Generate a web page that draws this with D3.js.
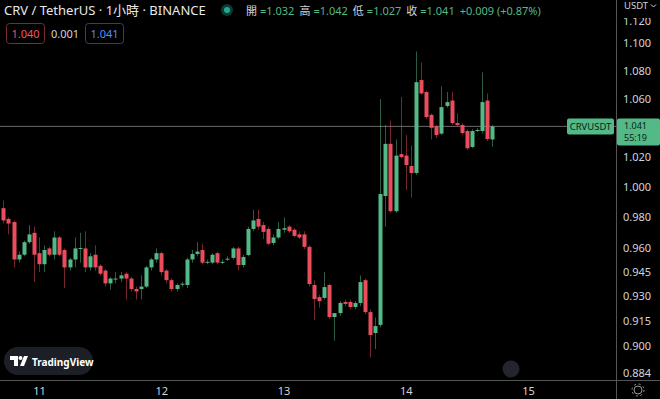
<!DOCTYPE html>
<html>
<head>
<meta charset="utf-8">
<script src="https://cdn.jsdelivr.net/npm/d3@7"></script>
<style>
body { margin: 0; background: #000; }
svg { display: block; font-family: "Noto Sans", "Noto Sans CJK TC", sans-serif; }
</style>
</head>
<body>
<svg id="chart" width="660" height="399"></svg>
<script>
// hourly candles, first one at 10th 17:00
const firstHour = new Date(2023, 4, 10, 17);
const opens = [0.986, 0.979, 0.977, 0.953, 0.956, 0.964, 0.970, 0.957, 0.950, 0.960,
  0.956, 0.967, 0.959, 0.948, 0.953, 0.9597, 0.960, 0.948, 0.956, 0.949,
  0.946, 0.938, 0.941, 0.941, 0.944, 0.941, 0.9345, 0.9345, 0.936, 0.948,
  0.953, 0.957, 0.946, 0.940, 0.9345, 0.9376, 0.937, 0.953, 0.9565, 0.959,
  0.951, 0.951, 0.957, 0.951, 0.953, 0.954, 0.960, 0.9495, 0.9558, 0.9725,
  0.979, 0.975, 0.9725, 0.9635, 0.967, 0.972, 0.974, 0.972, 0.969, 0.969,
  0.961, 0.937, 0.9295, 0.929, 0.937, 0.9173, 0.9197, 0.9265, 0.9265, 0.9234,
  0.9259, 0.940, 0.9203, 0.9076, 0.9125, 0.994, 1.029, 0.984, 1.022, 1.021,
  1.014, 1.0093, 1.0735, 1.065, 1.049, 1.041, 1.036, 1.0552, 1.059, 1.0433,
  1.042, 1.0378, 1.0269, 1.038, 1.0378, 1.059, 1.032];
const highs = [0.991, 0.980, 0.978, 0.958, 0.965, 0.975, 0.974, 0.967, 0.962, 0.961,
  0.971, 0.968, 0.960, 0.954, 0.967, 0.970, 0.971, 0.957, 0.962, 0.950,
  0.947, 0.942, 0.945, 0.945, 0.945, 0.942, 0.936, 0.943, 0.949, 0.954,
  0.960, 0.958, 0.947, 0.941, 0.938, 0.939, 0.954, 0.959, 0.964, 0.963,
  0.953, 0.957, 0.958, 0.953, 0.955, 0.961, 0.961, 0.956, 0.974, 0.985,
  0.985, 0.977, 0.974, 0.969, 0.977, 0.980, 0.975, 0.973, 0.971, 0.971,
  0.962, 0.940, 0.931, 0.945, 0.938, 0.919, 0.927, 0.928, 0.928, 0.927,
  0.943, 0.941, 0.922, 0.917, 1.060, 1.042, 1.045, 1.032, 1.0615, 1.035,
  1.028, 1.094, 1.086, 1.066, 1.050, 1.042, 1.069, 1.065, 1.065, 1.050,
  1.043, 1.039, 1.039, 1.040, 1.079, 1.064, 1.042];
const lows = [0.976, 0.969, 0.948, 0.951, 0.955, 0.963, 0.939, 0.945, 0.945, 0.955,
  0.953, 0.955, 0.935, 0.946, 0.948, 0.951, 0.945, 0.946, 0.946, 0.943,
  0.936, 0.934, 0.938, 0.939, 0.928, 0.933, 0.928, 0.928, 0.935, 0.946,
  0.951, 0.943, 0.938, 0.933, 0.933, 0.936, 0.935, 0.951, 0.955, 0.950,
  0.950, 0.950, 0.950, 0.950, 0.952, 0.953, 0.946, 0.948, 0.955, 0.971,
  0.972, 0.966, 0.962, 0.962, 0.966, 0.970, 0.970, 0.967, 0.966, 0.9596,
  0.936, 0.9155, 0.923, 0.928, 0.916, 0.903, 0.918, 0.924, 0.922, 0.922,
  0.924, 0.919, 0.893, 0.898, 0.911, 0.974, 0.983, 0.983, 1.019, 0.998,
  0.993, 1.008, 1.063, 1.046, 1.032, 1.033, 1.035, 1.054, 1.042, 1.041,
  1.035, 1.025, 1.026, 1.037, 1.036, 1.031, 1.027];
const closes = [0.978, 0.976, 0.953, 0.956, 0.964, 0.969, 0.956, 0.950, 0.959, 0.956,
  0.967, 0.956, 0.948, 0.953, 0.960, 0.9603, 0.948, 0.955, 0.948, 0.944,
  0.938, 0.941, 0.941, 0.943, 0.941, 0.9345, 0.933, 0.936, 0.948, 0.953,
  0.957, 0.945, 0.940, 0.9345, 0.937, 0.9378, 0.953, 0.9565, 0.958, 0.951,
  0.9515, 0.956, 0.951, 0.9515, 0.9535, 0.960, 0.9495, 0.9546, 0.9725, 0.978,
  0.974, 0.9706, 0.963, 0.967, 0.9725, 0.973, 0.971, 0.968, 0.967, 0.961,
  0.9376, 0.9283, 0.927, 0.9357, 0.9173, 0.9197, 0.9259, 0.9253, 0.9234, 0.9259,
  0.9388, 0.9203, 0.9064, 0.9118, 0.9953, 1.029, 0.984, 1.021, 1.020, 1.0146,
  1.0093, 1.072, 1.064, 1.0475, 1.040, 1.035, 1.0544, 1.0579, 1.0433, 1.0419,
  1.0364, 1.026, 1.0378, 1.0385, 1.0579, 1.0323, 1.041];
const priceTicks = [1.120, 1.100, 1.080, 1.060, 1.020, 1.000, 0.980, 0.960, 0.945, 0.930, 0.915, 0.900, 0.884];
const dayTicks = [11, 12, 13, 14, 15].map(d => new Date(2023, 4, d));
const lastPrice = 1.041;

const up = '#53b987', down = '#eb4d5c';
let svg = d3.select('#chart');
svg.append('rect').attr('width', 660).attr('height', 399).attr('fill', '#000');

let candles = opens.map((o, i) => ({
  t: d3.timeHour.offset(firstHour, i), o: o, h: highs[i], l: lows[i], c: closes[i]
}));

let x = d3.scaleTime([new Date(2023, 4, 11), new Date(2023, 4, 15)], [39, 528]);
let y = d3.scaleLog([0.9, 1.1], [345.7, 43.3]);

// price line
svg.append('line').attr('x1', 0).attr('x2', 616).attr('y1', y(lastPrice)).attr('y2', y(lastPrice))
  .attr('stroke', '#6a6a6a').attr('stroke-width', 1);

// candles
let g = svg.append('g');
g.selectAll('line.wick').data(candles).join('line').attr('class', 'wick')
  .attr('x1', d => Math.round(x(d.t)) + 0.5).attr('x2', d => Math.round(x(d.t)) + 0.5)
  .attr('y1', d => y(d.h)).attr('y2', d => y(d.l))
  .attr('stroke', d => d.c >= d.o ? up : down).attr('stroke-opacity', 0.5);
g.selectAll('rect.body').data(candles).join('rect').attr('class', 'body')
  .attr('x', d => Math.round(x(d.t)) - 1.5).attr('width', 4)
  .attr('y', d => y(Math.max(d.o, d.c)))
  .attr('height', d => Math.max(1, y(Math.min(d.o, d.c)) - y(Math.max(d.o, d.c))))
  .attr('fill', d => d.c >= d.o ? up : down);

// frame lines
svg.append('line').attr('x1', 616.5).attr('x2', 616.5).attr('y1', 0).attr('y2', 399).attr('stroke', '#555');
svg.append('line').attr('x1', 0).attr('x2', 660).attr('y1', 380.5).attr('y2', 380.5).attr('stroke', '#555');

// axes
let yAxis = d3.axisRight(y).tickValues(priceTicks).tickFormat(d3.format('.3f')).tickSize(0).tickPadding(7);
let ya = svg.append('g').attr('transform', 'translate(616,0)').call(yAxis);
let xAxis = d3.axisBottom(x).tickValues(dayTicks).tickFormat(d3.timeFormat('%-d')).tickSize(0).tickPadding(7);
let xa = svg.append('g').attr('transform', 'translate(0,380)').call(xAxis);
[ya, xa].forEach(a => {
  a.select('.domain').remove();
  a.selectAll('text').attr('fill', '#d1d4dc').attr('font-size', 11).attr('font-family', '"Noto Sans", sans-serif');
});
// top tick drops a little, half hidden under the currency label
ya.selectAll('.tick').filter(d => d > 1.11).select('text').attr('dy', '0.72em');

// USDT label, covering the top tick
svg.append('rect').attr('x', 617).attr('y', 0).attr('width', 43).attr('height', 18).attr('fill', '#000');
svg.append('text').attr('x', 624).attr('y', 9).attr('fill', '#d1d4dc').attr('font-size', 9.5).text('USDT');
svg.append('path').attr('d', 'M651,4.5 l2.5,2.5 l2.5,-2.5').attr('fill', 'none').attr('stroke', '#d1d4dc');

// last price labels
let py = y(lastPrice);
svg.append('rect').attr('x', 617).attr('y', py - 8).attr('width', 43).attr('height', 27).attr('rx', 2).attr('fill', up);
svg.append('text').attr('x', 624).attr('y', py + 2.5).attr('fill', '#0c1f14').attr('font-size', 9).text('1.041');
svg.append('text').attr('x', 624).attr('y', py + 15).attr('fill', '#0c1f14').attr('font-size', 9).text('55:19');
svg.append('rect').attr('x', 567).attr('y', py - 8).attr('width', 47).attr('height', 16).attr('rx', 2).attr('fill', up);
svg.append('text').attr('x', 590.5).attr('y', py + 3.5).attr('text-anchor', 'middle').attr('fill', '#0c1f14')
  .attr('font-size', 9.5).text('CRVUSDT');

// header
svg.append('text').attr('x', 4).attr('y', 15).attr('fill', '#e8e8e8').attr('font-size', 13)
  .text('CRV / TetherUS · 1小時 · BINANCE');
svg.append('circle').attr('cx', 227).attr('cy', 10).attr('r', 6).attr('fill', '#0e3b31');
svg.append('circle').attr('cx', 227).attr('cy', 10).attr('r', 3).attr('fill', '#22ab94');
const ohlcLabels = ['開', '高', '低', '收'];
const ohlcValues = ['=1.032', '=1.042', '=1.027', '=1.041'];
let ohlc = svg.append('text').attr('x', 246).attr('y', 14.5).attr('font-size', 11);
ohlcLabels.forEach((l, i) => {
  ohlc.append('tspan').attr('fill', '#d1d4dc').attr('dx', i ? 5 : 0).text(l);
  ohlc.append('tspan').attr('fill', up).attr('dx', 3).text(ohlcValues[i]);
});
ohlc.append('tspan').attr('fill', up).attr('dx', 5).text('+0.009 (+0.87%)');

// bid / spread / ask
svg.append('rect').attr('x', 6.5).attr('y', 23.5).attr('width', 38).attr('height', 20).attr('rx', 3)
  .attr('fill', 'none').attr('stroke', '#7a2a33');
svg.append('text').attr('x', 25.5).attr('y', 38).attr('text-anchor', 'middle').attr('fill', '#f7525f').attr('font-size', 11).text('1.040');
svg.append('text').attr('x', 65).attr('y', 38).attr('text-anchor', 'middle').attr('fill', '#d1d4dc').attr('font-size', 11).text('0.001');
svg.append('rect').attr('x', 85.5).attr('y', 23.5).attr('width', 38).attr('height', 20).attr('rx', 3)
  .attr('fill', 'none').attr('stroke', '#2a3f8f');
svg.append('text').attr('x', 104.5).attr('y', 38).attr('text-anchor', 'middle').attr('fill', '#5b8cf6').attr('font-size', 11).text('1.041');

// TradingView badge
svg.append('rect').attr('x', 4).attr('y', 347).attr('width', 89).attr('height', 28).attr('rx', 14).attr('fill', '#1c1f26');
svg.append('path').attr('d', 'M10,356 h8 v10 h-4 v-6 h-4 z M24,356 h4 l-4,10 h-4 z').attr('fill', '#fff');
svg.append('circle').attr('cx', 20.5).attr('cy', 358).attr('r', 2).attr('fill', '#fff');
svg.append('text').attr('x', 32).attr('y', 365.5).attr('fill', '#fff').attr('font-size', 10)
  .attr('font-weight', 'bold').text('TradingView');

// scroll button and settings gear
svg.append('circle').attr('cx', 511).attr('cy', 369).attr('r', 8.5).attr('fill', '#2a2e39').attr('opacity', 0.8);
svg.append('circle').attr('cx', 638).attr('cy', 390).attr('r', 4).attr('fill', 'none').attr('stroke', '#999');
svg.append('circle').attr('cx', 638).attr('cy', 390).attr('r', 6).attr('fill', 'none').attr('stroke', '#999')
  .attr('stroke-dasharray', '2 2.7');
</script>
</body>
</html>
